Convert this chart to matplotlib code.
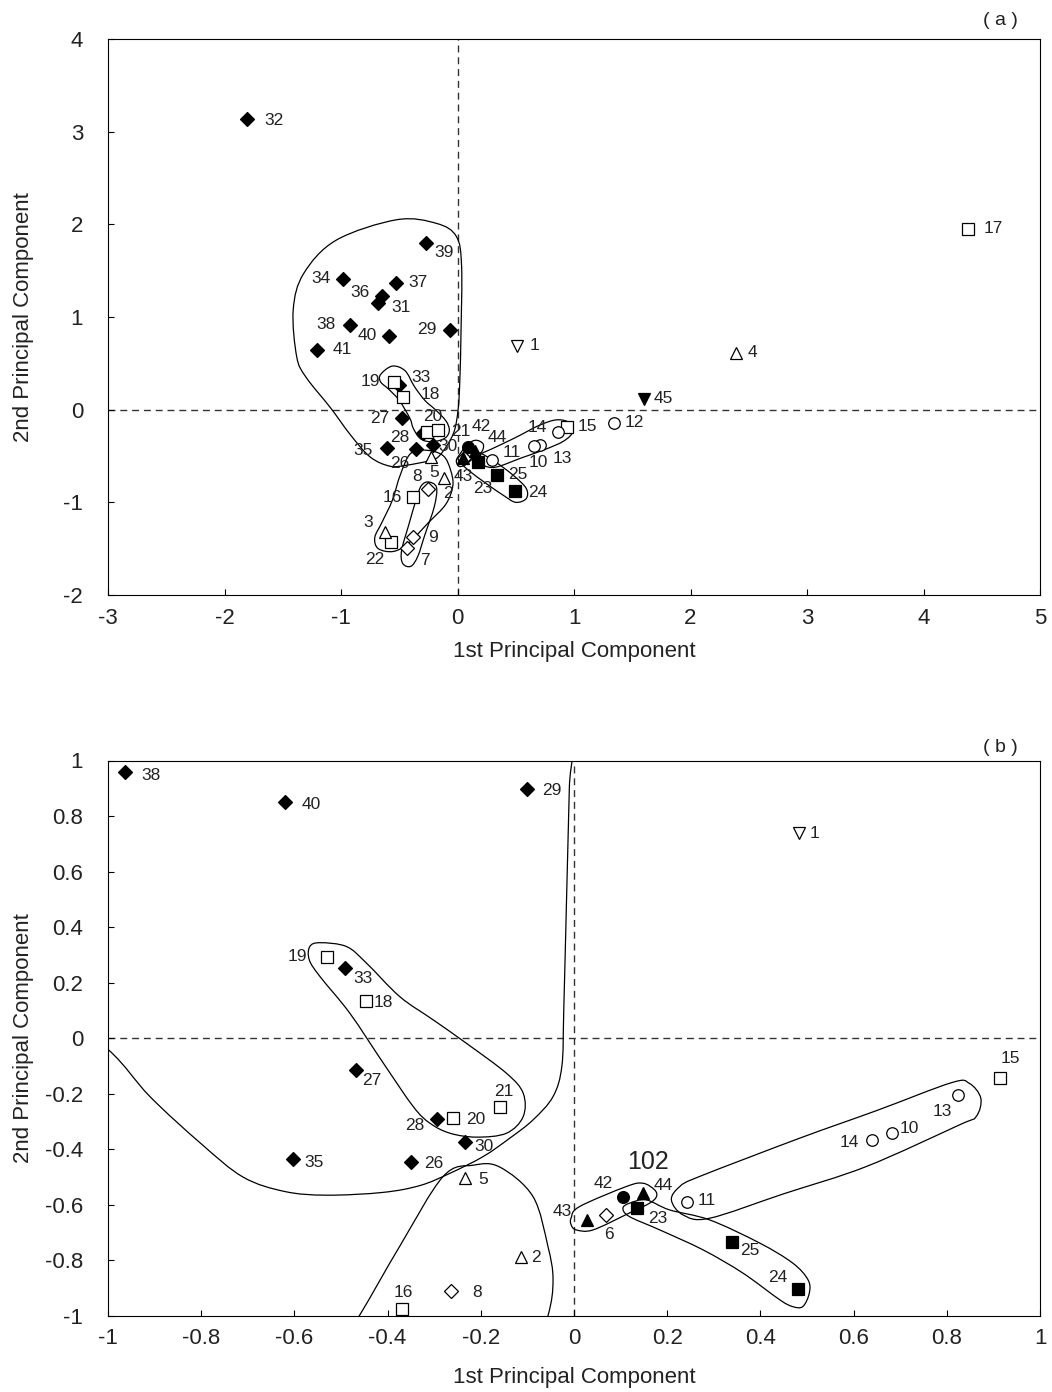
import numpy as np
import matplotlib
matplotlib.use('Agg')
import matplotlib.pyplot as plt
from matplotlib.path import Path
from matplotlib.patches import PathPatch

plt.rcParams['font.family'] = ['Liberation Sans', 'DejaVu Sans']
plt.rcParams['axes.unicode_minus'] = False

#-----------------------------
# data  (a): all samples, (b): zoom of the centre
#-----------------------------
ids_a = list(range(1, 46))
pc1_a = [0.51, -0.113, -0.622, 2.39, -0.23, 0.06, -0.431, -0.256, -0.379, 0.708,
         0.293, 1.343, 0.86, 0.657, 0.937, -0.385, 4.382, -0.465, -0.543, -0.265,
         -0.165, -0.571, 0.179, 0.494, 0.336, -0.356, -0.479, -0.299, -0.062, -0.208,
         -0.68, -1.804, -0.505, -0.985, -0.608, -0.651, -0.531, -0.923, -0.273, -0.588,
         -1.209, 0.093, 0.05, 0.15, 1.60]
pc2_a = [0.69, -0.739, -1.315, 0.612, -0.506, -0.52, -1.494, -0.858, -1.369, -0.38,
         -0.54, -0.143, -0.236, -0.391, -0.182, -0.944, 1.95, 0.141, 0.301, -0.236,
         -0.218, -1.423, -0.56, -0.876, -0.703, -0.426, -0.092, -0.254, 0.861, -0.38,
         1.149, 3.137, 0.262, 1.411, -0.416, 1.228, 1.371, 0.915, 1.803, 0.80,
         0.645, -0.398, -0.523, -0.45, 0.117]

ids_b = [1, 2, 5, 6, 8, 10, 11, 13, 14, 15, 16, 18, 19, 20, 21, 23, 24, 25, 26, 27,
         28, 29, 30, 33, 35, 38, 40, 42, 43, 44]
pc1_b = [0.482, -0.113, -0.234, 0.069, -0.263, 0.682, 0.242, 0.823, 0.640, 0.915,
         -0.369, -0.447, -0.529, -0.259, -0.158, 0.136, 0.480, 0.339, -0.349, -0.468,
         -0.295, -0.101, -0.233, -0.491, -0.604, -0.963, -0.620, 0.105, 0.027, 0.149]
pc2_b = [0.738, -0.788, -0.504, -0.636, -0.911, -0.340, -0.590, -0.206, -0.366, -0.144,
         -0.975, 0.135, 0.293, -0.288, -0.248, -0.612, -0.902, -0.734, -0.446, -0.114,
         -0.291, 0.897, -0.372, 0.252, -0.435, 0.958, 0.851, -0.570, -0.654, -0.558]

# symbol groups (sample numbers)
groups = [
    (range(26, 42), 'D', 'black', 7.2),
    (range(15, 23), 's', 'white', 8.5),
    (range(10, 15), 'o', 'white', 8.3),
    (range(2, 6), '^', 'white', 9.0),
    (range(6, 10), 'D', 'white', 7.0),
    ([1], 'v', 'white', 9.0),
    ([45], 'v', 'black', 8.5),
    ([42], 'o', 'black', 8.5),
    ([43, 44], '^', 'black', 8.5),
    ([23, 24, 25], 's', 'black', 8.5),
]

# label offsets [pixel] (dx right, dy down)
offA = {1:(18,0),2:(4,15),3:(-17,-9),4:(17,0),5:(3,16),7:(18,12),8:(-11,-13),9:(20,1),
        10:(-2,18),11:(20,-7),12:(20,0),13:(5,27),14:(3,-18),15:(21,0),16:(-20,0),17:(25,0),
        18:(27,-2),19:(-24,0),20:(6,-15),21:(23,2),22:(-16,18),23:(4,27),24:(23,2),25:(21,0),
        26:(-16,14),27:(-22,0),28:(-23,4),29:(-23,0),30:(15,2),31:(23,4),32:(27,2),33:(22,-8),
        34:(-22,0),35:(-24,2),36:(-22,-3),37:(22,0),38:(-24,0),39:(18,10),40:(-22,0),41:(26,0),
        42:(13,-20),43:(0,18),44:(22,-14),45:(19,0)}
offB = {1:(16,0),2:(15,0),5:(18,1),6:(3,20),8:(26,1),10:(18,-4),11:(20,-2),13:(-15,16),
        14:(-23,3),15:(10,-20),16:(1,-17),18:(18,2),19:(-30,0),20:(22,1),21:(3,-16),23:(20,10),
        24:(-20,-11),25:(18,8),26:(22,1),27:(16,11),28:(-22,6),29:(25,1),30:(19,5),33:(18,10),
        35:(22,3),38:(26,3),40:(26,3),42:(-20,-13),43:(-24,-8),44:(20,-8)}

# hand drawn grouping loops (data coords)
loopsA = [
    [(-0.52,2.05),(-0.18,2.01),(-0.01,1.87),(0.035,1.55),(0.03,0.83),(0.02,0.32),(0.005,0.0),
     (-0.036,-0.26),(-0.15,-0.49),(-0.24,-0.55),(-0.44,-0.60),(-0.58,-0.61),(-0.75,-0.51),
     (-0.92,-0.27),(-1.09,0.02),(-1.30,0.35),(-1.38,0.57),(-1.41,1.08),(-1.32,1.47),(-1.04,1.83)],
    [(-0.66,0.38),(-0.56,0.47),(-0.45,0.42),(-0.37,0.25),(-0.28,0.10),(-0.19,0.0),(-0.10,-0.12),
     (-0.07,-0.22),(-0.10,-0.30),(-0.18,-0.34),(-0.27,-0.34),(-0.33,-0.30),(-0.38,-0.20),
     (-0.41,-0.09),(-0.50,0.10),(-0.59,0.22),(-0.66,0.30)],
    [(-0.40,-0.47),(-0.25,-0.44),(-0.12,-0.50),(-0.06,-0.65),(-0.04,-0.82),(-0.10,-1.02),
     (-0.25,-1.22),(-0.42,-1.44),(-0.55,-1.53),(-0.68,-1.50),(-0.71,-1.38),(-0.65,-1.22),
     (-0.56,-0.98),(-0.49,-0.70)],
    [(-0.25,-0.78),(-0.18,-0.84),(-0.20,-1.05),(-0.28,-1.35),(-0.34,-1.58),(-0.40,-1.69),
     (-0.47,-1.66),(-0.48,-1.52),(-0.42,-1.25),(-0.35,-0.95),(-0.31,-0.82)],
    [(-0.01,-0.55),(0.02,-0.48),(0.09,-0.37),(0.16,-0.33),(0.22,-0.37),(0.21,-0.45),
     (0.14,-0.52),(0.06,-0.60),(0.01,-0.61)],
    [(0.20,-0.48),(0.30,-0.42),(0.50,-0.30),(0.70,-0.17),(0.85,-0.11),(0.96,-0.14),(0.99,-0.24),
     (0.91,-0.34),(0.75,-0.43),(0.55,-0.52),(0.33,-0.62),(0.22,-0.60),(0.19,-0.54)],
    [(0.05,-0.50),(0.17,-0.46),(0.32,-0.56),(0.48,-0.71),(0.59,-0.85),(0.59,-0.96),(0.50,-1.00),
     (0.40,-0.93),(0.25,-0.80),(0.10,-0.66),(0.03,-0.57)],
]
loopsB = [
    [(-0.5,1.6),(-0.1,1.5),(-0.006,1.15),(-0.010,0.9),(-0.016,0.5),(-0.022,0.1),(-0.026,-0.10),
     (-0.045,-0.21),(-0.088,-0.294),(-0.138,-0.36),(-0.195,-0.426),(-0.266,-0.486),(-0.33,-0.53),
     (-0.41,-0.555),(-0.53,-0.565),(-0.62,-0.552),(-0.71,-0.50),(-0.80,-0.38),(-0.91,-0.21),
     (-1.0,-0.04),(-1.15,0.15),(-1.3,0.8)],
    [(-0.567,0.330),(-0.545,0.344),(-0.488,0.330),(-0.445,0.270),(-0.374,0.150),(-0.302,0.066),
     (-0.231,-0.018),(-0.145,-0.126),(-0.109,-0.198),(-0.109,-0.282),(-0.145,-0.342),
     (-0.209,-0.356),(-0.266,-0.342),(-0.309,-0.306),(-0.345,-0.246),(-0.409,-0.090),
     (-0.481,0.090),(-0.545,0.222),(-0.568,0.282)],
    [(-0.461,-1.0),(-0.374,-0.749),(-0.281,-0.498),(-0.216,-0.457),(-0.159,-0.464),(-0.088,-0.570),
     (-0.056,-0.749),(-0.045,-0.869),(-0.056,-1.0),(-0.10,-1.2),(-0.3,-1.3),(-0.52,-1.15)],
    [(-0.006,-0.646),(0.012,-0.606),(0.112,-0.534),(0.148,-0.522),(0.173,-0.546),(0.177,-0.570),
     (0.162,-0.594),(0.119,-0.629),(0.041,-0.690),(0.005,-0.690),(-0.006,-0.672)],
    [(0.105,-0.612),(0.119,-0.594),(0.155,-0.582),(0.205,-0.618),(0.291,-0.654),(0.398,-0.737),
     (0.469,-0.809),(0.502,-0.869),(0.505,-0.917),(0.491,-0.966),(0.469,-0.966),(0.441,-0.941),
     (0.362,-0.845),(0.277,-0.762),(0.184,-0.690),(0.119,-0.642)],
    [(0.209,-0.582),(0.227,-0.534),(0.269,-0.498),(0.484,-0.360),(0.65,-0.26),(0.810,-0.160),
     (0.848,-0.162),(0.873,-0.216),(0.863,-0.282),(0.827,-0.312),(0.627,-0.462),(0.45,-0.56),
     (0.291,-0.648),(0.234,-0.636)],
]

textColor = '#222222'


def loopPatch(pts):
    # closed Catmull-Rom curve as cubic bezier path
    P = np.array(pts, dtype=float)
    n = len(P)
    verts = [P[0]]
    codes = [Path.MOVETO]
    for i in range(n):
        p0 = P[i - 1]
        p1 = P[i]
        p2 = P[(i + 1) % n]
        p3 = P[(i + 2) % n]
        verts += [p1 + (p2 - p0) / 6.0, p2 - (p3 - p1) / 6.0, p2]
        codes += [Path.CURVE4] * 3
    return PathPatch(Path(verts, codes), fill=False, lw=0.9, ec='black', zorder=2)


def drawPanel(ax, ids, pc1, pc2, offs, loops, xlim, ylim, xticks, yticks, xlabels, ylabels, tag, tagOff):
    ax.set_xlim(xlim)
    ax.set_ylim(ylim)
    ax.axhline(0, color='#333333', lw=1.0, dashes=(5, 3.5), zorder=1)
    ax.axvline(0, color='#333333', lw=1.0, dashes=(5, 3.5), zorder=1)
    for lp in loops:
        ax.add_patch(loopPatch(lp))
    pos = {i: (x, y) for i, x, y in zip(ids, pc1, pc2)}
    for members, mk, fc, ms in groups:
        sel = [m for m in members if m in pos]
        if not sel:
            continue
        xs = [pos[m][0] for m in sel]
        ys = [pos[m][1] for m in sel]
        ax.plot(xs, ys, ls='none', marker=mk, ms=ms, mfc=fc, mec='black', mew=0.9, zorder=3)
    for i in ids:
        if i not in offs:
            continue
        dx, dy = offs[i]
        ax.annotate(str(i), pos[i], xytext=(dx, -dy), textcoords='offset pixels',
                    ha='center', va='center', fontsize=12.5, color=textColor, zorder=4)
    ax.set_xticks(xticks)
    ax.set_xticklabels(xlabels)
    ax.set_yticks(yticks)
    ax.set_yticklabels(ylabels)
    ax.tick_params(direction='in', length=4, width=0.8, labelsize=16, colors='black', labelcolor=textColor)
    ax.tick_params(axis='x', pad=9)
    ax.tick_params(axis='y', pad=18)
    for sp in ax.spines.values():
        sp.set_linewidth(0.8)
    ax.annotate(tag, (1, 1), xycoords='axes fraction', xytext=(-22, tagOff),
                textcoords='offset pixels', ha='right', va='center', fontsize=14, color=textColor)


fig = plt.figure(figsize=(10.52, 13.92), dpi=100)
axA = fig.add_axes([108 / 1052, 1 - 595 / 1392, 932 / 1052, 556 / 1392])
axB = fig.add_axes([108 / 1052, 1 - 1316 / 1392, 932 / 1052, 555.5 / 1392])

xtA = list(range(-3, 6))
ytA = list(range(-2, 5))
drawPanel(axA, ids_a, pc1_a, pc2_a, offA, loopsA, (-3, 5), (-2, 4),
          xtA, ytA, [str(v) for v in xtA], [str(v) for v in ytA], '( a )', 19)

xtB = [-1, -0.8, -0.6, -0.4, -0.2, 0, 0.2, 0.4, 0.6, 0.8, 1]
tlB = ['-1', '-0.8', '-0.6', '-0.4', '-0.2', '0', '0.2', '0.4', '0.6', '0.8', '1']
drawPanel(axB, ids_b, pc1_b, pc2_b, offB, loopsB, (-1, 1), (-1, 1),
          xtB, xtB, tlB, tlB, '( b )', 13)
axB.text(0.158, -0.445, '102', ha='center', va='center', fontsize=18, color=textColor)

for yc, ax in ((651, axA), (1378, axB)):
    fig.text(574 / 1052, 1 - yc / 1392, '1st Principal Component', ha='center', va='center',
             fontsize=16, color=textColor)
fig.text(24 / 1052, 1 - 317 / 1392, '2nd Principal Component', ha='center', va='center',
         rotation=90, fontsize=16, color=textColor)
fig.text(24 / 1052, 1 - 1038 / 1392, '2nd Principal Component', ha='center', va='center',
         rotation=90, fontsize=16, color=textColor)

plt.savefig('out.png', dpi=100)
